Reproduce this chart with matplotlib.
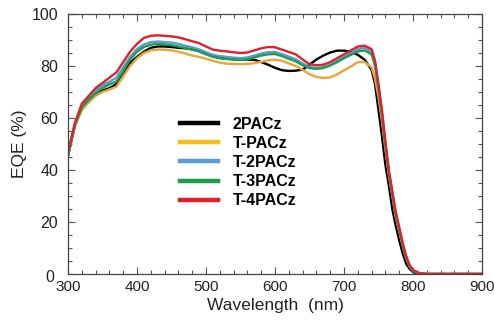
import matplotlib
matplotlib.use("Agg")
import matplotlib.pyplot as plt
from matplotlib.ticker import MultipleLocator
from matplotlib.lines import Line2D
import matplotlib.transforms as mtransforms

plt.rcParams['font.family'] = ['Liberation Sans', 'DejaVu Sans']

wavelength = [300, 310, 320, 330, 340, 350, 360, 370, 380, 390, 400, 410, 420, 430, 440,
              450, 460, 470, 480, 490, 500, 510, 520, 530, 540, 550, 560, 570, 580, 590,
              600, 610, 620, 630, 640, 650, 660, 670, 680, 690, 700, 710, 720, 730, 740,
              745, 750, 755, 760, 765, 770, 775, 780, 785, 790, 795, 800, 810, 820, 850, 900]

eqe_2pacz = [45.4, 57, 63.5, 66.5, 69, 70.5, 71.5, 73, 77, 81.2, 83.5, 85.5, 87, 87.5, 87.5,
             87.3, 87, 86.8, 86.4, 85.9, 84.8, 83.8, 83.1, 82.8, 82.6, 82.5, 82.4, 82.4, 81.5, 80.5,
             79.3, 78.4, 78.1, 78.2, 78.6, 80.5, 82.5, 84, 85.2, 85.9, 85.9, 85.5, 84.3, 82.4, 78.5,
             73, 63, 53, 42, 34, 25, 18.5, 13, 8, 4, 2, 0.8, 0, 0, 0, 0]

eqe_tpacz = [46, 57, 63, 66, 68.5, 70, 71, 72, 76, 80, 83, 85, 86, 86.3, 86.3,
             86, 85.5, 84.8, 84, 83.5, 82.8, 82, 81.3, 80.9, 80.8, 80.7, 80.8, 81.1, 81.6, 82.2,
             82.4, 82, 81, 80, 78.5, 76.8, 75.8, 75.4, 75.6, 76.8, 78.3, 79.8, 81.5, 81.5, 79.5,
             75, 68, 59, 48, 38, 30, 22, 16.5, 11, 6, 3, 1.2, 0.2, 0, 0, 0]

eqe_t2pacz = [46, 58, 64.5, 67.5, 70.5, 72.5, 74, 75.5, 79.5, 83.5, 86.5, 88.3, 89.2, 89.4, 89.2,
              89, 88.5, 87.8, 87.2, 86.4, 85.3, 84.3, 83.8, 83.5, 83.2, 83, 83.3, 84, 84.8, 85.3,
              85.4, 84.6, 83.6, 82.6, 81, 79.6, 79.3, 79.5, 80.5, 82, 83.5, 85, 86.5, 87, 85.5,
              81, 72, 62, 50, 39, 31, 23, 17.5, 11.5, 6.5, 3.2, 1.3, 0.2, 0, 0, 0]

eqe_t3pacz = [45.5, 57.5, 64, 67, 69.5, 71.5, 73, 74, 78, 82.5, 85.5, 87.3, 88.2, 88.5, 88.3,
              88, 87.5, 86.9, 86.3, 85.6, 84.5, 83.5, 83, 82.7, 82.5, 82.3, 82.5, 83.3, 84, 84.5,
              84.6, 83.8, 82.8, 81.8, 80.3, 79.2, 78.9, 79.2, 80.2, 81.5, 83, 84.3, 85.6, 86, 84.5,
              80, 71, 61, 49.5, 39, 30.5, 22.5, 17, 11, 6.3, 3, 1.2, 0.2, 0, 0, 0]

eqe_t4pacz = [47, 58, 65.5, 68.5, 71.5, 73.5, 75.5, 77.5, 81.5, 85.5, 88.5, 90.8, 91.6, 91.8, 91.6,
              91.4, 91, 90.3, 89.5, 88.8, 87.5, 86.3, 85.9, 85.6, 85.3, 85, 85.2, 86, 86.8, 87.3,
              87.2, 86.3, 85.4, 84.5, 82.5, 80.7, 80.3, 80.5, 81.5, 83, 84.5, 86, 87.5, 87.8, 86.5,
              82, 73, 63, 51, 40, 32, 24, 18, 12, 7, 3.5, 1.5, 0.3, 0, 0, 0]

labels = ['2PACz', 'T-PACz', 'T-2PACz', 'T-3PACz', 'T-4PACz']
curve_colors = ['#000000', '#eba43a', '#5b9bd5', '#1a9e4c', '#e0202a']
legend_colors = ['#000000', '#f5bd1f', '#5b9bd5', '#1a9e4c', '#e0202a']
series = [eqe_2pacz, eqe_tpacz, eqe_t2pacz, eqe_t3pacz, eqe_t4pacz]

fig = plt.figure(figsize=(4.94, 3.24), dpi=100)
ax = fig.add_axes([68/494, 50/324, 414/494, 260/324])

for y, c in zip(series, curve_colors):
    ax.plot(wavelength, y, color=c, lw=1.7, solid_joinstyle='round')

ax.set_xlim(300, 900)
ax.set_ylim(0, 100)
ax.xaxis.set_major_locator(MultipleLocator(100))
ax.xaxis.set_minor_locator(MultipleLocator(20))
ax.yaxis.set_major_locator(MultipleLocator(20))
ax.yaxis.set_minor_locator(MultipleLocator(5))
ax.tick_params(which='both', direction='in', top=True, right=True,
               colors='#555555', labelcolor='#222222')
ax.tick_params(axis='x', which='major', labelsize=11, pad=4)
ax.tick_params(axis='y', which='major', labelsize=11.5, pad=7)
ax.tick_params(which='major', length=5, width=0.8)
ax.tick_params(which='minor', length=3, width=0.8)
for s in ax.spines.values():
    s.set_color('#444444')
    s.set_linewidth(0.9)

# nudge the "0" y-label slightly left/down like the reference
fig.canvas.draw()
for lbl in ax.get_yticklabels():
    if lbl.get_text() == '0':
        lbl.set_transform(lbl.get_transform() +
                          mtransforms.ScaledTranslation(-4/100, -2/100, fig.dpi_scale_trans))

ax.set_xlabel('Wavelength  (nm)', fontsize=12.5, color='#222222', labelpad=3)
ax.set_ylabel('EQE (%)', fontsize=12.5, color='#222222', labelpad=3)

handles = [Line2D([0], [0], color=c, lw=3.2) for c in legend_colors]
ax.legend(handles, labels, loc='upper left', bbox_to_anchor=(0.2705, 0.605),
          frameon=False, prop={'weight': 'bold', 'size': 11.5},
          handlelength=2.4, handletextpad=0.9, labelspacing=0.26,
          borderaxespad=0, borderpad=0)

fig.savefig('out.png', dpi=100)
